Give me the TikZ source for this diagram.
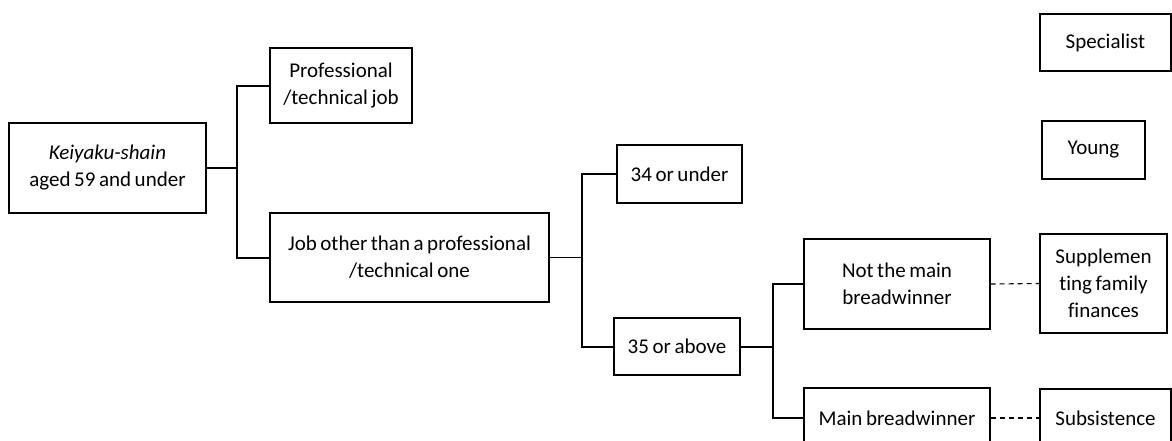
\documentclass[tikz,border=0pt]{standalone}
\usepackage{fontspec}
\setmainfont[Ligatures=NoCommon,WordSpace=0.75]{Carlito}
\begin{document}
\begin{tikzpicture}[x=1pt,y=-1pt,
  box/.style={draw, line width=1.2pt, align=center, inner sep=0pt,
    font=\fontsize{21}{27}\selectfont},
  stub/.style={line width=1.1pt},
  bracket/.style={line width=2pt},
  dashline/.style={line width=1.1pt, dashed, dash pattern=on 5pt off 4pt}]
\useasboundingbox (0,0) rectangle (1172,440);
\clip (0,0) rectangle (1172,440);
\node[box, minimum width=197pt, minimum height=90pt] (k) at (107.5,168) {\textit{Keiyaku-shain}\\aged 59 and under};
\node[box, minimum width=142pt, minimum height=75pt] (prof) at (341,85.5) {Professional\\/technical job};
\node[box, minimum width=279pt, minimum height=89pt] (job) at (409.5,257.5) {Job other than a professional\\/technical one};
\node[box, minimum width=125pt, minimum height=58pt] (y34) at (679.5,174) {34 or under};
\node[box, minimum width=126pt, minimum height=57pt] (o35) at (677,346.5) {35 or above};
\node[box, minimum width=186pt, minimum height=90pt] (nm) at (897,284) {Not the main\\breadwinner};
\node[box, minimum width=186pt, minimum height=60pt] (mb) at (897,418) {Main breadwinner};
\node[box, minimum width=131pt, minimum height=57pt] (spec) at (1105.5,42.5) {Specialist};
\node[box, minimum width=103pt, minimum height=58pt] (young) at (1093.5,150) {Young};
\node[box, minimum width=127pt, minimum height=99pt] (supp) at (1103.5,283.5) {Supplemen\\ting family\\finances};
\node[box, minimum width=131pt, minimum height=58pt] (subs) at (1105.5,418) {Subsistence};
\coordinate (b1) at (237,168);
\coordinate (b2) at (582,257.5);
\coordinate (b3) at (773,346.5);
\draw[stub] (k.east) -- (b1);
\draw[bracket] (b1) |- (prof.west);
\draw[bracket] (b1) |- (job.west);
\draw[stub] (job.east) -- (b2);
\draw[bracket] (b2) |- (y34.west);
\draw[bracket] (b2) |- (o35.west);
\draw[bracket] (o35.east) -- (b3);
\draw[bracket] (b3) |- (nm.west);
\draw[bracket] (b3) |- (mb.west);
\draw[dashline] (nm.east) -- (supp.west);
\draw[dashline] (mb.east) -- (subs.west);
\end{tikzpicture}
\end{document}
